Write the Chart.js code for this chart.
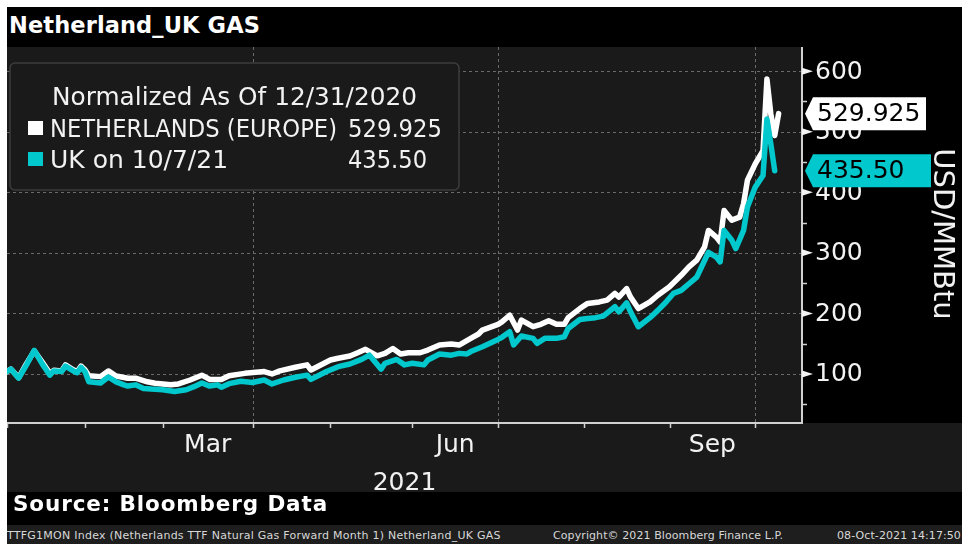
<!DOCTYPE html>
<html>
<head>
<meta charset="utf-8">
<script src="https://cdn.jsdelivr.net/npm/chart.js@4.4.0/dist/chart.umd.min.js"></script>
<style>
  html, body { margin: 0; padding: 0; background: #fff; }
  body { width: 962px; height: 544px; position: relative; overflow: hidden; font-family: "DejaVu Sans", sans-serif; }
  #frame { position: absolute; left: 7px; top: 7px; width: 955px; height: 537px; background: #000; overflow: hidden; }
  .txt { position: absolute; white-space: nowrap; line-height: 1; }
  #title { left: 2px; top: 7px; color: #fff; font-weight: bold; font-size: 22.5px; }
  #plot { position: absolute; left: 0; top: 40px; width: 955px; height: 445px; }
  #source { left: 6px; top: 486px; color: #fff; font-weight: bold; font-size: 21.5px; }
  #footer { position: absolute; left: 0; top: 518px; width: 955px; height: 19px; background: #1e1e1e; }
  #footer .txt { top: 5px; font-size: 11px; color: #d8d8d8; }
</style>
</head>
<body>
<div id="frame">
  <div id="title" class="txt" data-w="251">Netherland_UK GAS</div>
  <div id="plot"><canvas id="chart" width="955" height="445"></canvas></div>
  <div id="source" class="txt" data-w="315">Source: Bloomberg Data</div>
  <div id="footer">
    <span class="txt" style="left:0" data-w="494">TTFG1MON Index (Netherlands TTF Natural Gas Forward Month 1) Netherland_UK GAS</span>
    <span class="txt" style="left:546px" data-w="230">Copyright© 2021 Bloomberg Finance L.P.</span>
    <span class="txt" style="left:830px" data-w="124">08-Oct-2021 14:17:50</span>
  </div>
</div>
<script>
// x = trading day since 31 Dec 2020, y = price normalized to 100
const nlDays = [0, 1, 3, 5, 7, 9, 11, 12, 14, 15, 17, 18, 19, 20, 21, 24, 26, 28, 31, 33, 36, 38, 42, 44, 47, 50, 52, 55, 57, 61, 66, 68, 70, 74, 77, 78, 81, 83, 85, 88, 90, 92, 95, 97, 99, 101, 103, 106, 108, 111, 114, 116, 119, 121, 122, 126, 127, 129, 131, 132, 135, 137, 139, 141, 143, 144, 147, 149, 152, 154, 156, 157, 159, 160, 162, 165, 167, 170, 173, 175, 177, 179, 180, 182, 183, 184, 186, 188, 189, 190, 192, 194, 195, 196, 197, 198];
const nlValues = [104, 108, 94, 117, 138, 120, 101, 106, 105, 115, 107, 104, 113, 107, 97, 95.6, 105, 96.7, 93, 93, 87, 84.6, 82, 83.5, 90, 98, 91, 91, 97, 101, 104, 100, 105, 111, 115, 106.6, 116.5, 123, 126, 129.6, 135, 140.7, 130, 134, 142, 133, 135, 135, 139.5, 147.8, 149.4, 147.8, 158.8, 166, 172.5, 182, 186, 197, 172.5, 189, 178, 182, 188, 182, 182, 193, 208, 216.5, 219, 222, 233, 227, 241, 227, 208, 219, 230, 244, 263, 277, 288, 310, 337, 326, 318, 370, 354, 359, 381, 420, 447, 469, 587, 529.5, 493.7, 529.925];

const ukDays = [0, 1, 3, 5, 7, 9, 11, 12, 14, 15, 17, 18, 19, 20, 21, 24, 26, 28, 30, 31, 33, 35, 37, 40, 43, 46, 48, 50, 52, 54, 55, 57, 60, 63, 66, 68, 71, 74, 77, 78, 82, 85, 88, 91, 93, 96, 97, 100, 102, 104, 107, 108, 111, 114, 116, 118, 119, 122, 126, 127, 129, 130, 132, 135, 136, 138, 141, 143, 144, 147, 149, 151, 153, 156, 157, 159, 160, 162, 165, 167, 169, 171, 173, 175, 177, 180, 182, 183, 184, 186, 187, 189, 190, 192, 194, 195, 196, 197];
const ukValues = [104, 108, 93, 115, 139, 117, 98, 105, 104, 113, 105, 102, 111, 104, 87, 85, 95, 87, 82, 80, 82, 76, 75, 74, 71, 74, 79, 85, 80, 82, 78, 84, 88, 86, 90, 83.5, 90, 94.5, 98, 91, 104, 112, 116.5, 124, 131, 108, 117.6, 124, 115, 117.6, 115, 123, 133, 131, 134, 133, 137, 145, 157, 160.5, 169.7, 148, 162.6, 158.8, 150.6, 158.8, 158.8, 161.4, 175, 190, 191.7, 193, 195.5, 211, 202.6, 217.5, 202.6, 178, 193, 205, 218, 233, 238, 249, 260, 301, 293, 285, 337, 320.7, 307, 337, 375.6, 408.6, 427.8, 521, 480, 435.5];

const legendHeader = 'Normalized As Of 12/31/2020';
const seriesNames = ['NETHERLANDS (EUROPE)', 'UK on 10/7/21'];
const lastLabels = ['529.925', '435.50'];

const monthStarts = [0, 20, 40, 63, 83, 104, 126, 148, 170, 192];
const quarterLines = [63, 126, 192];
const monthLabels = ['Mar', 'Jun', 'Sep'];
const monthLabelDays = [51.5, 115, 181];
const yearLabel = '2021';
const yTicks = [100, 200, 300, 400, 500, 600];
const yMinorTicks = [50, 150, 250, 350, 450, 550];
const yTitle = 'USD/MMBtu';

const WHITE = '#ffffff';
const CYAN = '#00c8cc';
const FONT = '"DejaVu Sans", sans-serif';

// stretch the html labels to the widths seen in the picture
document.querySelectorAll('[data-w]').forEach(el => {
  const w = +el.dataset.w;
  const gap = (w - el.getBoundingClientRect().width) / el.textContent.length;
  el.style.letterSpacing = gap.toFixed(2) + 'px';
});

function roundRect(ctx, x, y, w, h, r) {
  ctx.beginPath();
  ctx.moveTo(x + r, y);
  ctx.arcTo(x + w, y, x + w, y + h, r);
  ctx.arcTo(x + w, y + h, x, y + h, r);
  ctx.arcTo(x, y + h, x, y, r);
  ctx.arcTo(x, y, x + w, y, r);
  ctx.closePath();
}

function drawTag(ctx, x, y, text, bg, w) {
  ctx.fillStyle = bg;
  ctx.beginPath();
  ctx.moveTo(x, y);
  ctx.lineTo(x + 8, y - 16.5);
  ctx.lineTo(x + w, y - 16.5);
  ctx.lineTo(x + w, y + 16.5);
  ctx.lineTo(x + 8, y + 16.5);
  ctx.closePath();
  ctx.fill();
  ctx.fillStyle = '#000';
  ctx.font = '25px ' + FONT;
  ctx.textAlign = 'left';
  ctx.textBaseline = 'middle';
  ctx.fillText(text, x + 12, y + 1);
}

const decor = {
  id: 'decor',
  beforeDraw(chart) {
    const { ctx, chartArea: a, width, height } = chart;
    ctx.save();
    ctx.fillStyle = '#000';
    ctx.fillRect(0, 0, width, height);
    ctx.fillStyle = '#1a1a1a';
    ctx.fillRect(a.left, a.top, a.right - a.left, a.bottom - a.top);
    ctx.fillRect(0, a.bottom, width, height - a.bottom);
    ctx.restore();
  },
  beforeDatasetsDraw(chart) {
    const { ctx, chartArea: a } = chart;
    const xs = chart.scales.x, ys = chart.scales.y;
    ctx.save();
    ctx.strokeStyle = '#6a6a6a';
    ctx.lineWidth = 1;
    ctx.setLineDash([3, 3]);
    yTicks.forEach(v => {
      const py = Math.round(ys.getPixelForValue(v)) + 0.5;
      ctx.beginPath();
      ctx.moveTo(a.left, py);
      ctx.lineTo(a.right, py);
      ctx.stroke();
    });
    quarterLines.forEach(d => {
      const px = Math.round(xs.getPixelForValue(d)) + 0.5;
      ctx.beginPath();
      ctx.moveTo(px, a.top);
      ctx.lineTo(px, a.bottom);
      ctx.stroke();
    });
    ctx.restore();
  },
  afterDraw(chart) {
    const { ctx, chartArea: a } = chart;
    const xs = chart.scales.x, ys = chart.scales.y;
    ctx.save();

    // axis lines
    ctx.strokeStyle = '#d0d0d0';
    ctx.lineWidth = 2;
    ctx.beginPath();
    ctx.moveTo(a.left, a.bottom);
    ctx.lineTo(a.right, a.bottom);
    ctx.lineTo(a.right, a.top);
    ctx.stroke();

    // x ticks at month starts
    ctx.lineWidth = 1.5;
    monthStarts.forEach(d => {
      const px = Math.round(xs.getPixelForValue(d)) + 0.5;
      ctx.beginPath();
      ctx.moveTo(px, a.bottom);
      ctx.lineTo(px, a.bottom + 5);
      ctx.stroke();
    });
    ctx.fillStyle = '#f2f2f2';
    ctx.font = '25px ' + FONT;
    ctx.textAlign = 'center';
    ctx.textBaseline = 'alphabetic';
    monthLabels.forEach((m, i) => {
      ctx.fillText(m, xs.getPixelForValue(monthLabelDays[i]), a.bottom + 29);
    });
    ctx.fillText(yearLabel, (a.left + a.right) / 2, a.bottom + 67);

    // y ticks
    yTicks.forEach(v => {
      const py = ys.getPixelForValue(v);
      ctx.beginPath();
      ctx.moveTo(a.right, py - 3.5);
      ctx.lineTo(a.right + 11, py);
      ctx.lineTo(a.right, py + 3.5);
      ctx.closePath();
      ctx.fill();
    });
    yMinorTicks.forEach(v => {
      const py = Math.round(ys.getPixelForValue(v)) + 0.5;
      ctx.beginPath();
      ctx.moveTo(a.right, py);
      ctx.lineTo(a.right + 5, py);
      ctx.stroke();
    });
    ctx.textAlign = 'left';
    ctx.textBaseline = 'middle';
    yTicks.forEach(v => {
      ctx.fillText(String(v), a.right + 13, ys.getPixelForValue(v) + 1);
    });

    // axis title
    ctx.save();
    ctx.translate(a.right + 140, (a.top + a.bottom) / 2 - 1);
    ctx.rotate(Math.PI / 2);
    ctx.font = '29px ' + FONT;
    ctx.textAlign = 'center';
    ctx.fillText(yTitle, 0, 0);
    ctx.restore();

    // last value tags
    drawTag(ctx, a.right + 3, ys.getPixelForValue(nlValues[nlValues.length - 1]), lastLabels[0], WHITE, 121);
    drawTag(ctx, a.right + 3, ys.getPixelForValue(ukValues[ukValues.length - 1]), lastLabels[1], CYAN, 126);

    // legend box
    const lx = a.left + 3, ly = a.top + 16;
    roundRect(ctx, lx, ly, 449, 127, 5);
    ctx.fillStyle = '#1a1a1a';
    ctx.fill();
    ctx.strokeStyle = '#3c3c3c';
    ctx.lineWidth = 1.5;
    ctx.stroke();
    ctx.fillStyle = '#f2f2f2';
    ctx.font = '25px ' + FONT;
    ctx.textAlign = 'left';
    ctx.textBaseline = 'alphabetic';
    ctx.fillText(legendHeader, lx + 42, ly + 42, 365);
    const colors = [WHITE, CYAN];
    const widths = [287, 180];
    const valWidths = [94, 79];
    seriesNames.forEach((name, i) => {
      const base = ly + 74 + i * 31;
      ctx.fillStyle = colors[i];
      ctx.fillRect(lx + 18, base - 16, 15, 14);
      ctx.fillStyle = '#f2f2f2';
      ctx.fillText(name, lx + 40, base, widths[i]);
      ctx.fillText(lastLabels[i], lx + 338, base, valWidths[i]);
    });
    ctx.restore();
  }
};

new Chart(document.getElementById('chart'), {
  type: 'line',
  data: {
    datasets: [
      {
        label: seriesNames[1],
        data: ukDays.map((d, i) => ({ x: d, y: ukValues[i] })),
        borderColor: CYAN,
        borderWidth: 5.5,
        borderJoinStyle: 'round',
        borderCapStyle: 'round',
        pointRadius: 0,
        tension: 0,
        order: 0
      },
      {
        label: seriesNames[0],
        data: nlDays.map((d, i) => ({ x: d, y: nlValues[i] })),
        borderColor: WHITE,
        borderWidth: 5.5,
        borderJoinStyle: 'round',
        borderCapStyle: 'round',
        pointRadius: 0,
        tension: 0,
        order: 1
      }
    ]
  },
  options: {
    responsive: false,
    animation: false,
    layout: { padding: 0 },
    plugins: { legend: { display: false }, tooltip: { enabled: false } },
    scales: {
      x: {
        type: 'linear',
        position: 'bottom',
        min: 0,
        max: 204,
        afterFit: s => { s.height = 69; },
        ticks: { display: false },
        grid: { display: false },
        border: { display: false }
      },
      y: {
        type: 'linear',
        position: 'right',
        min: 19,
        max: 640,
        afterFit: s => { s.width = 160; },
        ticks: { display: false },
        grid: { display: false },
        border: { display: false }
      }
    }
  },
  plugins: [decor]
});
</script>
</body>
</html>
